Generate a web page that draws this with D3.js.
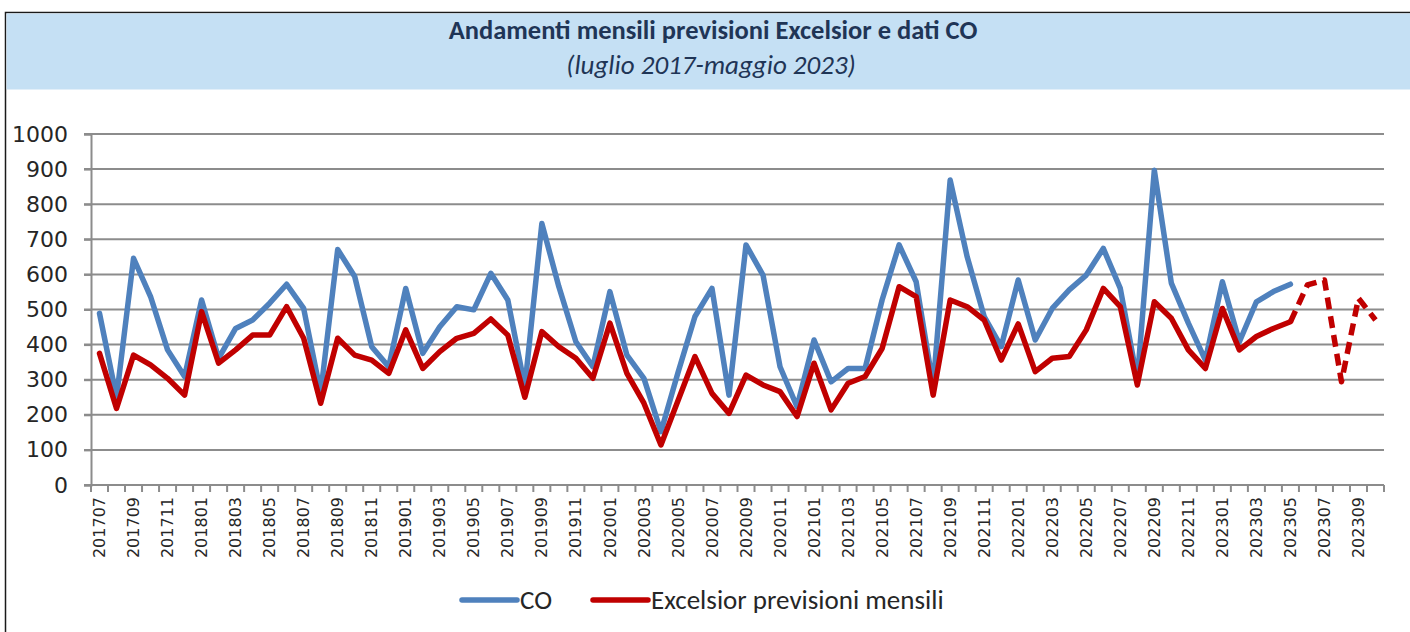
<!DOCTYPE html>
<html>
<head>
<meta charset="utf-8">
<script src="https://cdn.jsdelivr.net/npm/d3@7"></script>
<style>
  body { margin: 0; background: #ffffff; }
  #chart { width: 1410px; height: 632px; }
</style>
</head>
<body>
<div id="chart"></div>
<script>
// months on the category axis (201707 .. 202310)
const months = [];
for (let y = 2017; y <= 2023; y++) {
  for (let m = 1; m <= 12; m++) {
    const k = y * 100 + m;
    if (k >= 201707 && k <= 202310) months.push(String(k));
  }
}

// CO data, 201707 .. 202305
const coValues = [
  489, 250, 646, 537, 385, 309, 527, 361, 446, 470, 518, 572,
  503, 262, 671, 594, 394, 337, 560, 375, 451, 508, 499, 603,
  527, 280, 745, 565, 408, 337, 551, 370, 304, 152, 320, 480,
  560, 256, 684, 598, 337, 223, 413, 294, 332, 332, 527, 684,
  579, 282, 869, 650, 480, 394, 584, 413, 503, 556, 598, 674,
  560, 300, 897, 575, 461, 356, 579, 408, 522, 551, 572
];

// Excelsior monthly forecasts, 201707 .. 202305
const excelsiorValues = [
  375, 218, 370, 342, 304, 256, 494, 347, 385, 427, 427, 508,
  418, 233, 418, 370, 356, 318, 442, 332, 380, 418, 432, 473,
  427, 250, 437, 394, 361, 304, 461, 318, 233, 114, 240, 366,
  261, 204, 313, 285, 266, 195, 347, 214, 290, 309, 389, 565,
  537, 256, 527, 508, 470, 356, 459, 323, 361, 366, 442, 560,
  508, 285, 522, 475, 385, 332, 503, 385, 423, 446, 465
];

// Excelsior forecast tail, 202305 .. 202310 (dashed)
const forecastMonths = ["202305", "202306", "202307", "202308", "202309", "202310"];
const forecastValues = [465, 570, 584, 294, 532, 470];

const yTicks = [0, 100, 200, 300, 400, 500, 600, 700, 800, 900, 1000];
const xLabels = months.filter((d, i) => i % 2 === 0);

const svg = d3.select("#chart")
  .append("svg")
    .attr("width", 1410)
    .attr("height", 632);

// outer frame and title band
svg.append("rect")
  .attr("x", 5.5).attr("y", 12.5)
  .attr("width", 1410).attr("height", 640)
  .attr("fill", "#ffffff")
  .attr("stroke", "#1a1a1a")
  .attr("stroke-width", 1.5);

svg.append("rect")
  .attr("x", 6.5).attr("y", 13.5)
  .attr("width", 1404).attr("height", 76)
  .attr("fill", "#c5e0f4");

svg.append("text")
  .attr("x", 713).attr("y", 39)
  .attr("text-anchor", "middle")
  .style("font-family", "Carlito, Lato, sans-serif")
  .style("font-weight", "bold")
  .style("font-size", "26.5px")
  .style("fill", "#1f3556")
  .text("Andamenti mensili previsioni Excelsior e dati CO");

svg.append("text")
  .attr("x", 711).attr("y", 74)
  .attr("text-anchor", "middle")
  .style("font-family", "Carlito, Lato, sans-serif")
  .style("font-style", "italic")
  .style("font-size", "27px")
  .style("fill", "#1f3556")
  .text("(luglio 2017-maggio 2023)");

// scales
const x = d3.scaleBand()
  .domain(months)
  .range([91, 1384])
  .padding(0);

const y = d3.scaleLinear()
  .domain([0, 1000])
  .range([485, 134]);

const cx = d => x(d) + x.bandwidth() / 2;

// gridlines
svg.append("g")
  .selectAll("line")
  .data(yTicks)
  .join("line")
    .attr("x1", 84).attr("x2", 1384)
    .attr("y1", d => y(d)).attr("y2", d => y(d))
    .attr("stroke", "#8c8c8c")
    .attr("stroke-width", 2);

// y axis
const yAxis = svg.append("g")
  .attr("transform", "translate(91,0)")
  .call(d3.axisLeft(y).tickValues(yTicks).tickFormat(d3.format("d")).tickSize(7).tickPadding(16));
yAxis.select(".domain").attr("stroke", "#8c8c8c").attr("stroke-width", 2);
yAxis.selectAll(".tick line").attr("stroke", "#8c8c8c").attr("stroke-width", 2);
yAxis.selectAll("text")
  .attr("font-family", "DejaVu Sans")
  .attr("font-size", 22)
  .attr("fill", "#262626");

// x axis: month labels every other month, ticks at category boundaries
const xAxis = svg.append("g")
  .attr("transform", "translate(0,485)")
  .call(d3.axisBottom(x).tickValues(xLabels).tickSize(0).tickPadding(0));
xAxis.select(".domain").remove();
xAxis.selectAll("text")
  .attr("transform", "rotate(-90)")
  .attr("x", -12)
  .attr("y", 0)
  .attr("dy", "0.35em")
  .attr("text-anchor", "end")
  .attr("font-family", "DejaVu Sans")
  .attr("font-size", 16)
  .attr("fill", "#262626");

svg.append("g")
  .selectAll("line")
  .data(months.map(d => x(d)).concat([x(months[months.length - 1]) + x.bandwidth()]))
  .join("line")
    .attr("x1", d => d).attr("x2", d => d)
    .attr("y1", 485).attr("y2", 492)
    .attr("stroke", "#8c8c8c")
    .attr("stroke-width", 2);

svg.append("line")
  .attr("x1", 91).attr("x2", 1384)
  .attr("y1", 485).attr("y2", 485)
  .attr("stroke", "#8c8c8c")
  .attr("stroke-width", 2);

// lines
const line = d3.line()
  .x(d => cx(d[0]))
  .y(d => y(d[1]));

const coData = coValues.map((v, i) => [months[i], v]);
const exData = excelsiorValues.map((v, i) => [months[i], v]);
const fcData = forecastValues.map((v, i) => [forecastMonths[i], v]);

svg.append("path")
  .datum(coData)
  .attr("d", line)
  .attr("fill", "none")
  .attr("stroke", "#4f81bd")
  .attr("stroke-width", 5.5)
  .attr("stroke-linejoin", "round")
  .attr("stroke-linecap", "round");

svg.append("path")
  .datum(exData)
  .attr("d", line)
  .attr("fill", "none")
  .attr("stroke", "#c00000")
  .attr("stroke-width", 5.5)
  .attr("stroke-linejoin", "round")
  .attr("stroke-linecap", "round");

svg.append("path")
  .datum(fcData)
  .attr("d", line)
  .attr("fill", "none")
  .attr("stroke", "#c00000")
  .attr("stroke-width", 5.5)
  .attr("stroke-dasharray", "12,7")
  .attr("stroke-linejoin", "round");

// legend
const legend = [
  {name: "CO", color: "#4f81bd", x: 462},
  {name: "Excelsior previsioni mensili", color: "#c00000", x: 593}
];
const lg = svg.append("g");
lg.selectAll("line")
  .data(legend)
  .join("line")
    .attr("x1", d => d.x).attr("x2", d => d.x + 55)
    .attr("y1", 600).attr("y2", 600)
    .attr("stroke", d => d.color)
    .attr("stroke-width", 5.5)
    .attr("stroke-linecap", "round");
lg.selectAll("text")
  .data(legend)
  .join("text")
    .attr("x", d => d.x + 58)
    .attr("y", 609)
    .style("font-family", "Carlito, Lato, sans-serif")
    .style("font-size", "27px")
    .style("fill", "#262626")
    .text(d => d.name);
</script>
</body>
</html>
